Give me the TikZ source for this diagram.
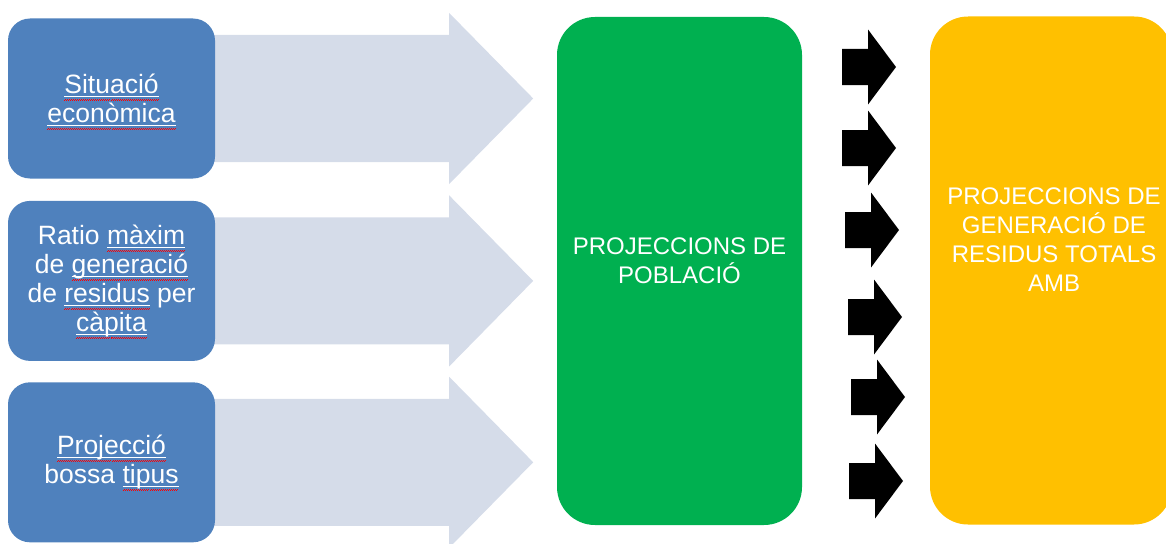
\documentclass[tikz,border=0pt]{standalone}
\usepackage{fontspec}
\setmainfont{Liberation Sans}
\usetikzlibrary{positioning, backgrounds}
\definecolor{boxblue}{HTML}{4F81BD}
\definecolor{fadegrey}{HTML}{D5DCE9}
\definecolor{popgreen}{HTML}{00B050}
\definecolor{resgold}{HTML}{FFC000}
% spell-check marks under words
\newsavebox\spellbox
\newcommand\spell[1]{%
  \sbox\spellbox{#1}%
  \smash{\rlap{\color{white}\rule[-3.4pt]{\wd\spellbox}{1.2pt}}}%
  \smash{\rlap{\color{red}\hbox to \wd\spellbox{\xleaders\hbox{%
    \rule[-7.2pt]{1pt}{0.8pt}\rule[-6.4pt]{1pt}{0.8pt}}\hfill}}}%
  \usebox\spellbox}
\tikzset{%
  % Specifications for style of nodes:
  infobox/.style={
    rectangle,
    rounded corners=22pt,
    fill=boxblue,
    text=white,
    minimum width=207pt,
    minimum height=160pt,
    inner sep=0pt,
    align=center,
    font=\fontsize{26.5}{29}\selectfont
  },
  bigbox/.style={rectangle, rounded corners=38pt, minimum height=508pt, inner sep=0pt},
  captext/.style={text=white, align=center, inner sep=0pt, font=\fontsize{24}{29}\selectfont},
  fadearrow/.style={fill=fadegrey},
  blackarrow/.style={fill=black},
}
\begin{document}
\begin{tikzpicture}[x=1pt, y=-1pt, node distance=21pt]
  \useasboundingbox (0,0) rectangle (1166,543);
  \clip (0,0) rectangle (1166,543);
  % input boxes
  \node (sit) [infobox] at (111.5,98.5)
  {\spell{Situació}\\ \spell{econòmica}};
  \node (ratio) [infobox, below=22pt of sit]
  {Ratio \spell{màxim}\\ de \spell{generació}\\ de \spell{residus} per\\ \spell{càpita}};
  \node (bossa) [infobox, below=of ratio]
  {\spell{Projecció}\\ bossa \spell{tipus}};
  % result boxes
  \node (pop) [bigbox, fill=popgreen, minimum width=245pt] at (679.5,271) {};
  \node (popText) [captext] at ([yshift=10.5pt]pop.center)
  {PROJECCIONS DE\\ POBLACIÓ};
  \node (res) [bigbox, fill=resgold, minimum width=242pt] at (1051,270.5) {};
  \node (resText) [captext] at ([xshift=3pt, yshift=30.5pt]res.center)
  {PROJECCIONS DE\\ GENERACIÓ DE\\ RESIDUS TOTALS\\ AMB};
  % wide arrows
  \begin{scope}[on background layer]
    \foreach \b in {sit, ratio, bossa}
      \fill[fadearrow] ([xshift=-10pt, yshift=63.5pt]\b.east) -- ++(244,0) -- ++(0,-22)
        -- ++(84,85.5) -- ++(-84,85.5) -- ++(0,-22) -- ++(-244,0) -- cycle;
  \end{scope}
  % small arrows
  \foreach \x/\y in {842/67, 842/148, 845/230, 848/317, 851/397, 849/481}
    \fill[blackarrow] (\x,\y-18) -- ++(26,0) -- ++(0,-19.5) -- ++(28,37.5)
      -- ++(-28,37.5) -- ++(0,-19.5) -- ++(-26,0) -- cycle;
\end{tikzpicture}
\end{document}
